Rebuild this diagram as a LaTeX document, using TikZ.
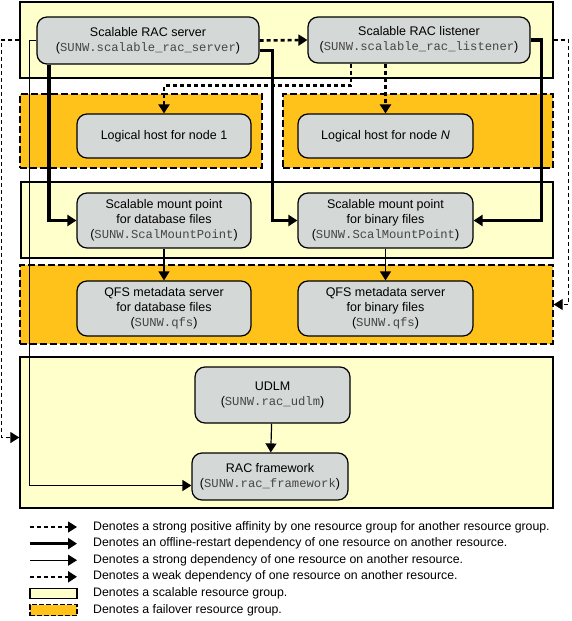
\documentclass[tikz,border=0pt]{standalone}
\usepackage{fontspec}
\setmainfont{Liberation Sans}
\setmonofont{Liberation Mono}
\usepackage{xcolor}
\usetikzlibrary{positioning}
\usetikzlibrary{arrows.meta}
\definecolor{scalfill}{RGB}{255,255,204}
\definecolor{failfill}{RGB}{255,194,26}
\definecolor{resfill}{RGB}{212,216,214}
\definecolor{codegray}{RGB}{70,70,70}
\newcommand{\rtype}[1]{({\fontsize{12.2}{15}\ttfamily\color{codegray}#1})}

\begin{document}
\begin{tikzpicture}[x=1pt,y=-1pt,font=\fontsize{12.5}{15}\selectfont,
scal/.style={rectangle,draw,line width=1.3pt,fill=scalfill,inner sep=0},
fail/.style={rectangle,draw,line width=1.4pt,dash pattern=on 7pt off 3pt,fill=failfill,inner sep=0},
res/.style={rectangle,rounded corners=10pt,draw,line width=1.2pt,fill=resfill,align=center,inner sep=0},
tip/.style={-{Triangle[length=9pt,width=11pt]}},
affin/.style={tip,line width=1.2pt,dash pattern=on 4pt off 3pt},
offline/.style={tip,line width=3.5pt},
strong/.style={tip,line width=1.2pt},
weak/.style={tip,line width=2.6pt,dash pattern=on 4pt off 3pt},
legtext/.style={anchor=west,inner sep=0,font=\fontsize{12.3}{15}\selectfont}]
\useasboundingbox (0,0) rectangle (571,621);

% resource groups
\node [scal, minimum width=533pt, minimum height=76pt] (grp1) at (286.5,40) {};
\node [fail, minimum width=242pt, minimum height=74pt] (grp2) at (141,131) {};
\node [fail, minimum width=270pt, minimum height=74pt] (grp3) at (418,131) {};
\node [scal, minimum width=532pt, minimum height=76pt] (grp4) at (287,220) {};
\node [fail, minimum width=533pt, minimum height=79pt] (grp5) at (286.5,304.5) {};
\node [scal, minimum width=533pt, minimum height=151pt] (grp6) at (286.5,432.5) {};

% resources
\node [res, minimum width=222pt, minimum height=47pt] (racsrv) at (148,40.5) {Scalable RAC server\\\rtype{SUNW.scalable\_rac\_server}};
\node [res, minimum width=222pt, minimum height=46pt] (raclsn) at (419,40) {Scalable RAC listener\\\rtype{SUNW.scalable\_rac\_listener}};
\node [res, minimum width=174pt, minimum height=44pt] (lhost1) at (164,136) {Logical host for node 1};
\node [res, minimum width=175pt, minimum height=44pt] (lhostN) at (385.5,136) {Logical host for node \textit{N}};
\node [res, minimum width=174pt, minimum height=55pt] (mntdb) at (164,220.5) {Scalable mount point\\for database files\\\rtype{SUNW.ScalMountPoint}};
\node [res, minimum width=175pt, minimum height=55pt] (mntbin) at (385.5,220.5) {Scalable mount point\\for binary files\\\rtype{SUNW.ScalMountPoint}};
\node [res, minimum width=174pt, minimum height=55pt] (qfsdb) at (164,308.5) {QFS metadata server\\for database files\\\rtype{SUNW.qfs}};
\node [res, minimum width=175pt, minimum height=55pt] (qfsbin) at (385.5,308.5) {QFS metadata server\\for binary files\\\rtype{SUNW.qfs}};
\node [res, minimum width=155pt, minimum height=56pt] (udlm) at (272.5,395) {UDLM\\\rtype{SUNW.rac\_udlm}};
\node [res, minimum width=156pt, minimum height=47pt] (racfw) at (270,476.5) {RAC framework\\\rtype{SUNW.rac\_framework}};

% affinities
\draw [affin] (grp1.west) -- ++(-18,0) |- ([yshift=-5pt]grp6.west);
\draw [affin] (grp1.east) -- ++(15,0) |- (grp5.east);

% dependencies
\draw [weak] (racsrv.east) -- (raclsn.west);
\draw [weak] (raclsn.south -| lhostN.north) -- (lhostN.north);
\draw [weak] ([xshift=-68pt]raclsn.south) -- ++(0,22) -| (lhost1.north);
\draw [offline] ([xshift=-99pt]racsrv.south) |- (mntdb.west);
\draw [offline] ([yshift=-10pt]racsrv.east) -- ++(13,0) |- (mntbin.west);
\draw [offline] (raclsn.east) -- ++(11,0) |- (mntbin.east);
\draw [strong] (racsrv.west) -- ++(-7,0) |- ([yshift=-9pt]racfw.west);
\draw [strong] (mntdb) -- (qfsdb);
\draw [strong] (mntbin) -- (qfsbin);
\draw [strong] (udlm) -- (racfw);

% legend
\foreach \sty/\txt [count=\i] in {affin/Denotes a strong positive affinity by one resource group for another resource group.,
offline/Denotes an offline-restart dependency of one resource on another resource.,
strong/Denotes a strong dependency of one resource on another resource.,
weak/Denotes a weak dependency of one resource on another resource.}
{\coordinate (leg\i-a) at (30,510.4+16.6*\i);
 \coordinate (leg\i-b) at (77,510.4+16.6*\i);
 \draw [\sty] (leg\i-a) -- (leg\i-b);
 \node [legtext] (legtxt\i) at (93,510.4+16.6*\i) {\txt};}
\node [scal, line width=1.2pt, minimum width=47pt, minimum height=10pt] (legscal) at (53.5,593.5) {};
\node [legtext] (legtxt5) at (93,593.5) {Denotes a scalable resource group.};
\node [fail, line width=1.2pt, dash pattern=on 5pt off 2pt, minimum width=47pt, minimum height=11pt] (legfail) at (53.5,610) {};
\node [legtext] (legtxt6) at (93,610) {Denotes a failover resource group.};
\end{tikzpicture}
\end{document}
